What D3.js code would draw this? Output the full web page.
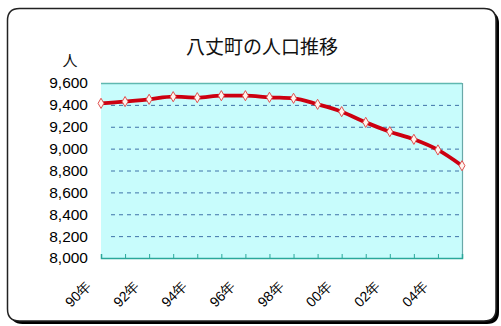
<!DOCTYPE html>
<html><head><meta charset="utf-8">
<script src="https://cdn.jsdelivr.net/npm/d3@7"></script>
<style>body{margin:0;background:#fff}svg{display:block}</style>
</head><body>
<script>
const years = [1990,1991,1992,1993,1994,1995,1996,1997,1998,1999,2000,2001,2002,2003,2004,2005];
const population = [9414,9430,9451,9475,9466,9484,9484,9469,9460,9405,9338,9240,9155,9085,8988,8844];
const yTicks = [8000,8200,8400,8600,8800,9000,9200,9400,9600];
const xLabelYears = [1990,1992,1994,1996,1998,2000,2002,2004];
const title = "八丈町の人口推移";
const yUnit = "人";

const W = 501, H = 326;
const svg = d3.select("body").append("svg").attr("width", W).attr("height", H);

// outer frame with shadow
const fx0 = 7.5, fy0 = 8.5, fx1 = 496, fy1 = 321, r = 12;
function framePath(x0,y0,x1,y1,r){
  return `M${x0+r},${y0}H${x1-r}Q${x1},${y0} ${x1},${y0+r}V${y1-r}Q${x1},${y1} ${x1-r},${y1}H${x0+r}Q${x0},${y1} ${x0},${y1-r}V${y0+r}Q${x0},${y0} ${x0+r},${y0}Z`;
}
svg.append("path").attr("d", framePath(fx0+3,fy0+3,fx1+3,fy1+3,r)).attr("fill","#000");
svg.append("path").attr("d", framePath(fx0,fy0,fx1,fy1,r)).attr("fill","#fff").attr("stroke","#222").attr("stroke-width",1.5);

const px0 = 101, px1 = 462, py0 = 83, py1 = 258;
const x = d3.scaleLinear().domain([years[0], years[years.length-1]]).range([px0, px1]);
const y = d3.scaleLinear().domain([8000, 9600]).range([py1, py0]);

// plot background
svg.append("rect").attr("x",px0).attr("y",py0).attr("width",px1-px0).attr("height",py1-py0)
  .attr("fill","#c8fcfc");

// grid lines
svg.append("g").selectAll("line").data(yTicks.filter(d=>d>8000 && d<9600)).join("line")
  .attr("x1",px0+10).attr("x2",px1).attr("y1",d=>y(d)+0.5).attr("y2",d=>y(d)+0.5)
  .attr("stroke","#3f72a8").attr("stroke-width",1).attr("stroke-dasharray","4,4");

// plot borders (top, right)
svg.append("line").attr("x1",px0).attr("x2",px1).attr("y1",py0+0.5).attr("y2",py0+0.5).attr("stroke","#5fb8b0").attr("stroke-width",1.5);
svg.append("line").attr("x1",px1+0.5).attr("x2",px1+0.5).attr("y1",py0).attr("y2",py1).attr("stroke","#6aa8a8").attr("stroke-width",1.2);

// x axis
const xAxis = d3.axisBottom(x).tickValues(years).tickSize(-4).tickFormat("");
const gx = svg.append("g").attr("transform",`translate(0,${py1})`).call(xAxis);
gx.select(".domain").attr("stroke","#2aa89a").attr("stroke-width",1.5);
gx.selectAll(".tick line").attr("stroke","#2aa89a");

// x labels
svg.append("g").selectAll("text").data(xLabelYears).join("text")
  .attr("transform", d=>`translate(${x(d)-9},${py1+29}) rotate(-45)`)
  .attr("text-anchor","end")
  .attr("font-family","'Liberation Sans', Arial, sans-serif")
  .attr("font-size",14).attr("fill","#000")
  .text(d=>String(d).slice(2)+"年");

// y axis labels
const yAxis = d3.axisLeft(y).tickValues(yTicks).tickSize(0).tickPadding(13).tickFormat(d3.format(","));
const gy = svg.append("g").attr("transform",`translate(${px0},0)`).call(yAxis);
gy.select(".domain").remove();
gy.selectAll("text").attr("font-family","'Liberation Sans', Arial, sans-serif").attr("font-size",15.5).attr("fill","#000");

// line
const line = d3.line().x((d,i)=>x(years[i])).y(d=>y(d)).curve(d3.curveMonotoneX);
svg.append("path").datum(population).attr("d",line).attr("fill","none")
  .attr("stroke","#cc0010").attr("stroke-width",3.8);

// markers
svg.append("g").selectAll("path").data(population).join("path")
  .attr("d", d3.symbol(d3.symbolDiamond, 30))
  .attr("transform",(d,i)=>`translate(${x(years[i])},${y(d)})`)
  .attr("fill","#fff4ee").attr("stroke","#e05050").attr("stroke-width",1);

// title
svg.append("text").attr("x",262).attr("y",54).attr("text-anchor","middle")
  .attr("font-family","'Noto Sans CJK JP', sans-serif").attr("font-size",19).attr("fill","#111")
  .text(title);

// unit
svg.append("text").attr("x",70).attr("y",66).attr("text-anchor","middle")
  .attr("font-family","'Noto Sans CJK JP', sans-serif").attr("font-size",15).attr("fill","#111")
  .text(yUnit);
</script>
</body></html>
